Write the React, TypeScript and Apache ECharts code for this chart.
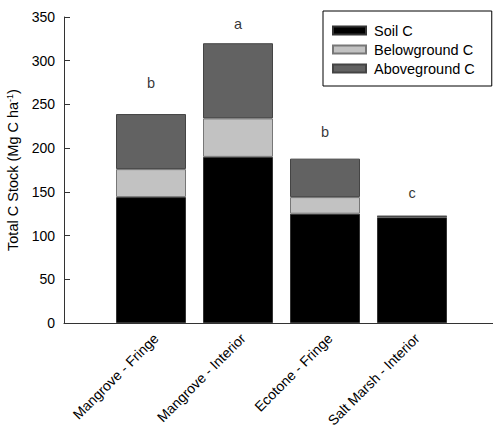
import React, { useEffect, useRef } from "react";
import * as echarts from "echarts";

const categories = ["Mangrove - Fringe", "Mangrove - Interior", "Ecotone - Fringe", "Salt Marsh - Interior"];
const soilC = [144, 190, 125, 121];
const belowgroundC = [32, 44, 19, 0.8];
const abovegroundC = [63, 86, 44, 0.6];
const letters = ["b", "a", "b", "c"];
const letterY = [274.5, 342, 218.5, 148.7];
const yTicks = { min: 0, max: 350, interval: 50 };

const FONT = "'Liberation Sans', Arial, sans-serif";

export default function App() {
  const ref = useRef<HTMLDivElement>(null);
  useEffect(() => {
    if (!ref.current) return;
    const chart = echarts.init(ref.current, null, { renderer: "svg" });
    const axisCats = ["", ...categories, ""];
    const pad = (arr: any[]) => ["-", ...arr, "-"];
    const barStyle = (color: string, border: string) => ({
      color,
      borderColor: border,
      borderWidth: 1,
    });
    chart.setOption({
      animation: false,
      textStyle: { fontFamily: FONT },
      grid: { left: 64, right: -6, top: 17, bottom: 104, containLabel: false, outerBoundsMode: "none" },
      legend: {
        left: 323,
        top: 11,
        orient: "vertical",
        data: ["Soil C", "Belowground C", "Aboveground C"],
        borderColor: "#000",
        borderWidth: 1,
        padding: [12, 17, 10, 9],
        itemWidth: 33,
        itemHeight: 8,
        itemGap: 4,
        icon: "rect",
        selectedMode: false,
        textStyle: { fontFamily: FONT, fontSize: 14.5, color: "#000", padding: [0, 0, 0, 3] },
      },
      xAxis: {
        type: "category",
        data: axisCats,
        boundaryGap: false,
        axisLine: { lineStyle: { color: "#333", width: 1 } },
        axisTick: { show: false },
        axisLabel: {
          rotate: 45,
          interval: 0,
          margin: 8,
          fontSize: 14,
          color: "#000",
          fontFamily: FONT,
          align: "right",
          verticalAlign: "top",
        },
        splitLine: { show: false },
      },
      yAxis: {
        type: "value",
        min: yTicks.min,
        max: yTicks.max,
        interval: yTicks.interval,
        name: "Total C Stock (Mg C ha{sup|-1})",
        nameLocation: "middle",
        nameGap: 38,
        nameTextStyle: {
          fontFamily: FONT,
          fontSize: 14.5,
          color: "#000",
          rich: {
            sup: { fontSize: 9, verticalAlign: "top", fontFamily: FONT, color: "#000", padding: [0, 0, 6, 0] },
          },
        },
        axisLine: { show: true, lineStyle: { color: "#333", width: 1 } },
        axisTick: { show: true, inside: true, length: 6, lineStyle: { color: "#333" } },
        axisLabel: { fontSize: 14, color: "#000", margin: 9, fontFamily: FONT },
        splitLine: { show: false },
      },
      series: [
        {
          name: "Soil C",
          type: "bar",
          stack: "total",
          barWidth: 70,
          data: pad(soilC),
          itemStyle: barStyle("#000000", "#333333"),
        },
        {
          name: "Belowground C",
          type: "bar",
          stack: "total",
          barWidth: 70,
          data: pad(belowgroundC),
          itemStyle: barStyle("#c2c2c2", "#777777"),
        },
        {
          name: "Aboveground C",
          type: "bar",
          stack: "total",
          barWidth: 70,
          data: pad(abovegroundC),
          itemStyle: barStyle("#626262", "#444444"),
        },
        {
          name: "letters",
          type: "scatter",
          symbolSize: 1,
          itemStyle: { color: "rgba(0,0,0,0)" },
          data: pad(letterY),
          label: {
            show: true,
            position: "inside",
            fontSize: 14.5,
            color: "#000",
            fontFamily: FONT,
            formatter: (p: any) => letters[p.dataIndex - 1] ?? "",
          },
          silent: true,
        },
      ],
    });
    return () => chart.dispose();
  }, []);
  return <div ref={ref} style={{ width: 493, height: 427, position: "absolute", left: 0, top: 0 }} />;
}
